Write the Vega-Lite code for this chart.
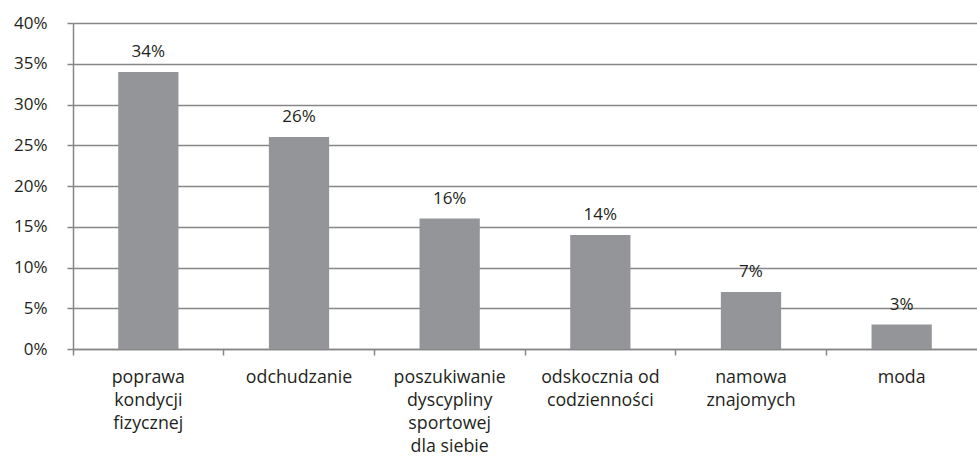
{
  "$schema": "https://vega.github.io/schema/vega-lite/v6.json",
  "width": 904,
  "height": 326,
  "autosize": "none",
  "padding": {"left": 73, "top": 23, "right": 0, "bottom": 111},
  "background": "white",
  "config": {
    "view": {"stroke": null},
    "font": "Open Sans",
    "text": {"font": "Open Sans"}
  },
  "data": {
    "values": [
      {"kategoria": "poprawa kondycji fizycznej", "wartosc": 34, "label": "34%"},
      {"kategoria": "odchudzanie", "wartosc": 26, "label": "26%"},
      {"kategoria": "poszukiwanie dyscypliny sportowej dla siebie", "wartosc": 16, "label": "16%"},
      {"kategoria": "odskocznia od codzienności", "wartosc": 14, "label": "14%"},
      {"kategoria": "namowa znajomych", "wartosc": 7, "label": "7%"},
      {"kategoria": "moda", "wartosc": 3, "label": "3%"}
    ]
  },
  "encoding": {
    "x": {
      "field": "kategoria",
      "type": "nominal",
      "sort": null,
      "scale": {"paddingInner": 0, "paddingOuter": 0},
      "axis": {
        "title": null,
        "labelAngle": 0,
        "bandPosition": 0,
        "labelExpr": "split(datum.label == 'poprawa kondycji fizycznej' ? 'poprawa|kondycji|fizycznej' : datum.label == 'poszukiwanie dyscypliny sportowej dla siebie' ? 'poszukiwanie|dyscypliny|sportowej|dla siebie' : datum.label == 'odskocznia od codzienności' ? 'odskocznia od|codzienności' : datum.label == 'namowa znajomych' ? 'namowa|znajomych' : datum.label, '|')",
        "labelFont": "Open Sans",
        "labelFontSize": 17.8,
        "labelColor": "#231f20",
        "labelLineHeight": 23,
        "labelPadding": 13,
        "labelBaseline": "top",
        "tickSize": 6,
        "tickColor": "#868686",
        "tickWidth": 1.5,
        "domainColor": "#868686",
        "domainWidth": 1.5,
        "labelLimit": 200
      }
    },
    "y": {
      "field": "wartosc",
      "type": "quantitative",
      "scale": {"domain": [0, 40]},
      "axis": {
        "title": null,
        "values": [0, 5, 10, 15, 20, 25, 30, 35, 40],
        "labelExpr": "datum.value + '%'",
        "labelFont": "Open Sans",
        "labelFontSize": 17,
        "labelColor": "#231f20",
        "labelPadding": 20,
        "tickSize": 6,
        "tickColor": "#868686",
        "tickWidth": 1.5,
        "domainColor": "#868686",
        "domainWidth": 1.5,
        "gridColor": "#868686",
        "gridWidth": 1.5,
        "gridOpacity": 1
      }
    }
  },
  "layer": [
    {"mark": {"type": "bar", "color": "#939598", "width": {"band": 0.4}}},
    {
      "mark": {"type": "text", "baseline": "bottom", "dy": -11, "fontSize": 17, "font": "Open Sans", "color": "#231f20"},
      "encoding": {"text": {"field": "label"}}
    }
  ]
}
